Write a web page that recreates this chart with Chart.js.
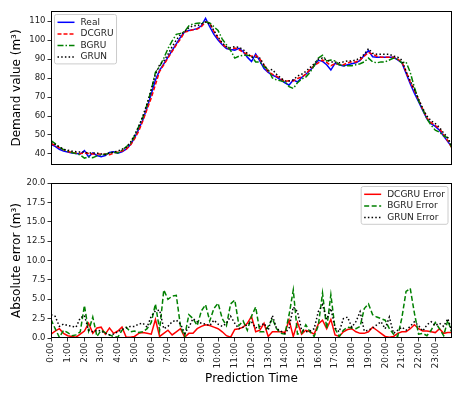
<!DOCTYPE html>
<html>
<head>
    <title>Demand prediction and absolute error</title>
    <script src="https://cdn.jsdelivr.net/npm/chart.js@4.4.1/dist/chart.umd.min.js"></script>
    <style>
        body {
            margin: 0;
            background: white;
        }
        #wrap {
            position: relative;
            width: 462px;
            height: 396px;
        }
        #demandChart {
            position: absolute;
            left: 0;
            top: 0;
        }
        #errorChart {
            position: absolute;
            left: 0;
            top: 175px;
        }
    </style>
</head>
<body>
    <div id="wrap">
        <canvas id="demandChart" width="462" height="175"></canvas>
        <canvas id="errorChart" width="462" height="221"></canvas>
    </div>

    <script>
        // Values, one per 15 minutes from 0:00 to 24:00
        const real = [
            45, 44, 42.5, 41.5,
            41, 40.5, 40.3, 40,
            41.8, 38.5, 40.5, 39.2,
            38.6, 39.2, 40.8, 41.2,
            40.4, 41.2, 42.5, 44.8,
            48.5, 53, 58, 64.5,
            71.5, 79, 84, 87.5,
            91, 94.5, 98, 101.5,
            104.3, 105, 105.5, 106,
            107.5, 111.4, 107, 103,
            100, 97.5, 95.5, 95,
            94.7, 95.6, 94, 91,
            88.7, 92.6, 89, 85,
            83, 81.5, 80.5, 79,
            77.5, 76.3, 79, 77.9,
            80.3, 82, 84, 86.5,
            89.3, 88.8, 87, 84.2,
            87.7, 87, 86.3, 87,
            87.5, 88, 89.3, 92,
            94.5, 91.2, 90.9, 90.9,
            90.9, 90.9, 90.9, 89.5,
            88, 82.5, 77, 72,
            67.5, 63, 58.5, 56,
            54.5, 52.5, 49.5, 46.5,
            43.5
        ];
        const dcgru = [
            45.5, 44.5, 43.3, 42.2,
            41.3, 40.8, 40.4, 40.2,
            40.5, 40.3, 40, 40,
            40, 39.8, 39.6, 40.5,
            41, 41.6, 42.4, 44.6,
            48, 52, 57.5, 63.5,
            69.5, 76.5, 83.5, 87,
            90.5, 94, 97.5, 100.5,
            104.2, 104.8, 105.4, 105.8,
            107, 109.5, 109, 104.5,
            101, 98, 96, 95,
            95.8, 95, 93.5, 92.5,
            91.5, 92, 90, 86.8,
            83.2, 82, 81, 79.5,
            78.2, 78.6, 78.5, 79.8,
            80.5, 82, 84.5, 86.5,
            88, 89.5, 88.2, 86.5,
            87.5, 87.2, 87, 88,
            88.5, 88.5, 89.6, 91.5,
            93.5, 92.5, 91.5, 91,
            91, 91, 91, 90,
            88.5, 83.3, 78, 73.5,
            68.5, 63.5, 59, 56.5,
            55, 53.5, 50, 47,
            43
        ];
        const bgru = [
            47, 45.5, 43.5, 42.3,
            41.5, 40.8, 40.2, 39.5,
            37.8, 38.5, 38, 39,
            39.5, 39.8, 40.5, 41,
            40.5, 42, 43.8, 45.5,
            49.5, 54.5, 59.5, 66,
            73.5, 83, 86, 90.5,
            95.5, 99.5, 103, 103.5,
            104.5, 107.5, 108.5, 108.8,
            109, 109.5, 109, 107,
            105, 100.5, 97.5, 94.5,
            90.5, 91.5, 92, 92,
            91.5, 88.5, 88.5, 86,
            84.5, 80, 79, 78.5,
            78, 75.5, 74.5, 77.5,
            79.5, 80.5, 83, 86.5,
            90.5, 92, 89, 89.5,
            89, 87, 86.5, 86.5,
            86.5, 87, 87.5, 88.5,
            90.5, 88.5, 88, 88.5,
            88.5, 89.5, 90.5, 89.8,
            88, 88.5, 83, 75,
            68, 63.5, 58.5, 55.2,
            52.5, 51.5, 49.5, 48.5,
            43
        ];
        const grun = [
            46, 45, 43.8, 42.5,
            42, 41.5, 41.2, 41,
            41, 40.5, 40.5, 40.5,
            40, 39.8, 40.5, 41,
            41.5, 42.5, 43.5, 46,
            50, 54.5, 60, 66.5,
            74, 82, 87, 89,
            92.5, 96.5, 100, 103,
            104.5, 106.5, 107.5, 107.5,
            108.5, 109.5, 108.5, 105,
            101.5, 98.5, 96.5, 96,
            96.5, 96.2, 95, 93,
            91, 91, 90.5, 87,
            84, 84.5, 82, 80,
            78.5, 78.5, 79, 81,
            82, 83.5, 85.5, 87.5,
            90, 90.5, 89.5, 88.5,
            88.5, 88, 88.5, 89,
            89, 89.5, 90.5, 92.5,
            95.5, 93, 92.5, 92.5,
            92.5, 92.5, 91.5, 91,
            89.5, 83.5, 78.5, 74,
            69, 64, 60, 57.5,
            56, 54, 51, 48.5,
            44
        ];

        const dcgruError = [
            0.5, 0.9, 1.2, 0.6,
            0.3, 0.2, 0.1, 0.5,
            0.9, 1.9, 0.6, 1.3,
            1.4, 0.5, 1.3, 0.6,
            0.9, 1.4, 0.1, 0.1,
            0.2, 0.6, 0.7, 0.6,
            0.5, 2.4, 0.2, 0.6,
            1.0, 0.4, 0.8, 1.2,
            0.1, 0.6, 0.6, 1.2,
            1.5, 1.7, 1.6, 1.4,
            1.2, 0.8, 0.3, 0.1,
            1.1, 1.2, 1.4, 1.9,
            2.8, 0.8, 1.0, 1.9,
            0.2, 0.8, 0.8, 0.8,
            0.7, 2.3, 0.2, 2.0,
            0.5, 1.0, 0.8, 0.5,
            1.8, 2.3, 1.2, 2.4,
            0.4, 0.2, 0.8, 1.1,
            1.2, 0.8, 0.6, 0.6,
            0.8, 1.4, 1.0, 0.6,
            0.2, 0.1, 0.2, 0.6,
            0.8, 0.8, 1.2, 1.7,
            1.2, 0.9, 0.9, 0.8,
            0.7, 1.2, 0.6, 0.7,
            0.7
        ];
        const bgruError = [
            2.4, 1.2, 0.1, 1.0,
            0.7, 0.3, 0.4, 0.8,
            4.2, 0.9, 2.7, 0.2,
            1.0, 0.7, 0.4, 0.2,
            0.1, 1.0, 1.4, 0.8,
            0.9, 0.7, 0.8, 1.2,
            2.0, 4.4, 1.0, 6.2,
            5.0, 5.4, 5.5, 1.5,
            0.2, 3.0, 2.5, 1.6,
            3.5, 4.3, 2.2, 3.8,
            4.5, 2.5, 1.6, 4.4,
            4.9, 1.6, 2.2, 1.0,
            2.8, 4.0, 0.8, 0.8,
            1.5, 2.5, 1.2, 0.6,
            0.5, 3.0, 6.2, 0.5,
            0.6, 1.7, 0.8, 0.2,
            1.6, 5.8, 1.2, 5.6,
            1.2, 0.2, 1.0, 1.4,
            1.3, 1.2, 1.5, 3.8,
            4.4, 3.0, 2.7, 2.5,
            2.3, 1.2, 0.5, 0.2,
            2.6, 6.0, 6.4, 3.2,
            0.5, 0.6, 0.3, 1.0,
            2.0, 1.2, 0.3, 2.3,
            0.6
        ];
        const grunError = [
            3.0, 2.8, 1.5, 1.8,
            1.6, 1.5, 1.4, 2.6,
            2.9, 1.0, 0.8, 1.0,
            0.9, 0.6, 0.4, 0.5,
            0.8, 1.1, 1.3, 1.5,
            1.5, 1.8, 1.9, 1.4,
            2.8, 3.5, 3.6, 1.2,
            1.5, 2.1, 2.3, 1.8,
            0.6, 1.4, 2.5, 2.1,
            1.9, 1.8, 1.6, 2.3,
            1.8, 1.5, 1.9, 2.8,
            1.9, 1.2, 1.4, 1.7,
            2.1, 1.3, 1.5, 1.9,
            1.0, 2.9, 1.2, 0.9,
            0.6, 1.3, 4.0, 3.4,
            1.0, 0.8, 0.9, 1.2,
            3.4, 4.3, 2.4, 3.8,
            1.3, 0.8, 2.5, 2.7,
            1.4, 2.1, 3.4, 0.9,
            1.0, 1.3, 1.7, 2.1,
            1.2, 2.7, 0.6, 1.0,
            1.4, 1.0, 1.5, 2.1,
            1.6, 0.9, 1.7, 2.1,
            1.6, 1.9, 1.5, 2.5,
            0.8
        ];

        // Tick labels
        const hourTicks = [0, 1, 2, 3, 4, 5, 6, 7, 8, 9, 10, 11, 12, 13, 14, 15, 16, 17, 18, 19, 20, 21, 22, 23];
        const demandTicks = [40, 50, 60, 70, 80, 90, 100, 110];
        const errorTicks = [0, 2.5, 5, 7.5, 10, 12.5, 15, 17.5, 20];

        // time of each sample in hours (15 minute steps)
        const times = [];
        for (let i = 0; i < real.length; i++) times.push(i / 4);

        const FONT = 'DejaVu Sans';

        function toPoints(values) {
            return values.map((v, i) => ({ x: times[i], y: v }));
        }

        // box around the plot area and a matplotlib style legend inside it
        const frameLegend = {
            id: 'frameLegend',
            afterDraw(chart, args, opts) {
                const ctx = chart.ctx;
                const a = chart.chartArea;
                ctx.save();
                ctx.strokeStyle = '#000';
                ctx.lineWidth = 1;
                ctx.strokeRect(Math.round(a.left) + 0.5, Math.round(a.top) + 0.5,
                    Math.round(a.right - a.left) - 1, Math.round(a.bottom - a.top) - 1);

                const items = chart.data.datasets;
                ctx.font = '9px "' + FONT + '"';
                let textW = 0;
                items.forEach(d => { textW = Math.max(textW, ctx.measureText(d.label).width); });
                const rowH = 11.6;
                const lineLen = 17;
                const w = 3 + lineLen + 6 + textW + 3;
                const h = items.length * rowH + 3;
                const x = opts.side === 'left' ? a.left + 3.5 : a.right - 4 - w;
                const y = a.top + 3.5;

                ctx.fillStyle = 'rgba(255,255,255,0.8)';
                ctx.strokeStyle = '#cccccc';
                ctx.lineWidth = 1;
                ctx.beginPath();
                ctx.roundRect(x, y, w, h, 2);
                ctx.fill();
                ctx.stroke();

                items.forEach((d, i) => {
                    const cy = y + 1.5 + rowH * i + rowH / 2 + 0.5;
                    ctx.strokeStyle = d.borderColor;
                    ctx.lineWidth = d.borderWidth;
                    ctx.setLineDash(d.borderDash || []);
                    ctx.beginPath();
                    ctx.moveTo(x + 3, cy);
                    ctx.lineTo(x + 3 + lineLen, cy);
                    ctx.stroke();
                    ctx.setLineDash([]);
                    ctx.fillStyle = '#222';
                    ctx.textBaseline = 'middle';
                    ctx.fillText(d.label, x + 3 + lineLen + 6, cy);
                });
                ctx.restore();
            }
        };

        function yAxis(min, max, ticks, digits, title) {
            return {
                type: 'linear',
                min: min,
                max: max,
                afterBuildTicks: s => { s.ticks = ticks.map(v => ({ value: v })); },
                afterFit: s => { s.width = 51; },
                ticks: {
                    color: '#222',
                    font: { family: FONT, size: 8.5 },
                    padding: 2,
                    callback: v => v.toFixed(digits)
                },
                grid: {
                    drawOnChartArea: false,
                    drawTicks: true,
                    tickLength: 3.5,
                    color: '#000',
                    lineWidth: 0.8
                },
                border: { display: false },
                title: {
                    display: true,
                    text: title,
                    color: '#000',
                    font: { family: FONT, size: 12 },
                    padding: { top: 10, bottom: 0 }
                }
            };
        }

        const common = {
            responsive: false,
            animation: false,
            events: [],
            plugins: { legend: { display: false }, tooltip: { enabled: false } },
            elements: { point: { radius: 0 }, line: { tension: 0 } }
        };

        // Top: measured demand and the three predictions
        new Chart(document.getElementById('demandChart'), {
            type: 'line',
            data: {
                datasets: [
                    { label: 'Real', data: toPoints(real), borderColor: '#0000ff', borderWidth: 1.5, order: 4 },
                    { label: 'DCGRU', data: toPoints(dcgru), borderColor: '#ff0000', borderWidth: 1.5, borderDash: [4, 2], order: 3 },
                    { label: 'BGRU', data: toPoints(bgru), borderColor: '#008000', borderWidth: 1.5, borderDash: [6, 2, 1.5, 2], order: 2 },
                    { label: 'GRUN', data: toPoints(grun), borderColor: '#000000', borderWidth: 1.5, borderDash: [1.5, 2.2], order: 1 }
                ]
            },
            options: Object.assign({}, common, {
                layout: { padding: { top: 11, bottom: 10, left: 0, right: 10 } },
                scales: {
                    x: { type: 'linear', min: 0, max: 24, display: false },
                    y: yAxis(34.2, 115.3, demandTicks, 0, 'Demand value (m³)')
                },
                plugins: Object.assign({}, common.plugins, { frameLegend: { side: 'left' } })
            }),
            plugins: [frameLegend]
        });

        // Bottom: absolute error of each model
        new Chart(document.getElementById('errorChart'), {
            type: 'line',
            data: {
                datasets: [
                    { label: 'DCGRU Error', data: toPoints(dcgruError), borderColor: '#ff0000', borderWidth: 1.5, order: 3 },
                    { label: 'BGRU Error', data: toPoints(bgruError), borderColor: '#008000', borderWidth: 1.5, borderDash: [5, 2.5], order: 2 },
                    { label: 'GRUN Error', data: toPoints(grunError), borderColor: '#000000', borderWidth: 1.5, borderDash: [1.5, 2.2], order: 1 }
                ]
            },
            options: Object.assign({}, common, {
                layout: { padding: { top: 8, bottom: 0, left: 0, right: 10 } },
                scales: {
                    x: {
                        type: 'linear',
                        min: 0,
                        max: 24,
                        afterBuildTicks: s => { s.ticks = hourTicks.map(v => ({ value: v })); },
                        afterFit: s => { s.height = 58; },
                        ticks: {
                            color: '#222',
                            font: { family: FONT, size: 9 },
                            padding: 1,
                            minRotation: 90,
                            maxRotation: 90,
                            autoSkip: false,
                            callback: v => v + ':00'
                        },
                        grid: {
                            drawOnChartArea: false,
                            drawTicks: true,
                            tickLength: 3.5,
                            color: '#000',
                            lineWidth: 0.8
                        },
                        border: { display: false },
                        title: {
                            display: true,
                            text: 'Prediction Time',
                            color: '#000',
                            font: { family: FONT, size: 12 },
                            padding: { top: 0, bottom: 10 }
                        }
                    },
                    y: yAxis(0, 20, errorTicks, 1, 'Absolute error (m³)')
                },
                plugins: Object.assign({}, common.plugins, { frameLegend: { side: 'right' } })
            }),
            plugins: [frameLegend]
        });
    </script>
</body>
</html>
